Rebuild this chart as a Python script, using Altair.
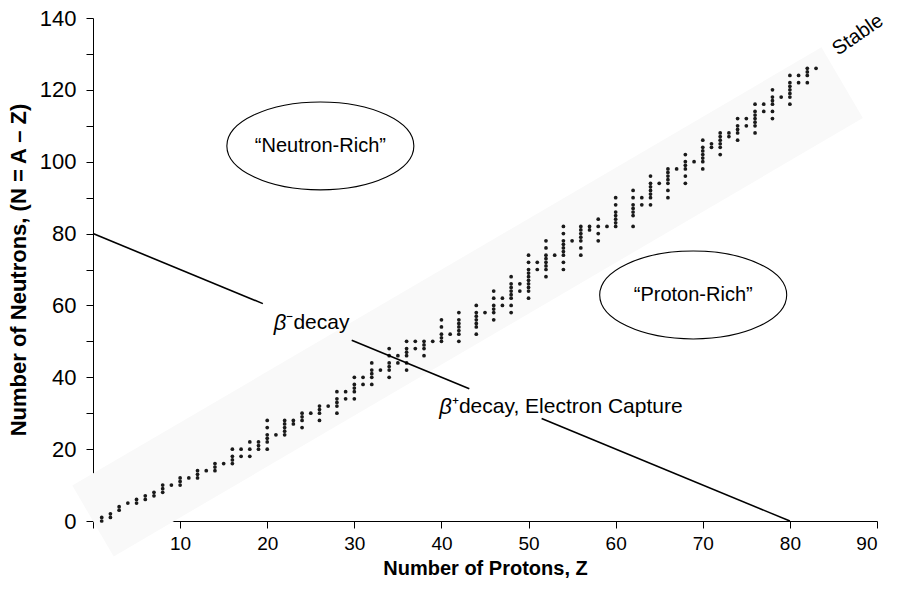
import altair as alt
import pandas as pd

# Stable nuclides: proton number Z and the neutron numbers N of its stable isotopes
Z_values = list(range(1, 84))
N_lists = [
    [0, 1], [1, 2], [3, 4], [5], [5, 6], [6, 7], [7, 8], [8, 9, 10], [10], [10, 11, 12],
    [12], [12, 13, 14], [14], [14, 15, 16], [16], [16, 17, 18, 20], [18, 20], [18, 20, 22],
    [20, 21, 22], [20, 22, 23, 24, 26, 28], [24], [24, 25, 26, 27, 28], [27, 28], [26, 28, 29, 30],
    [30], [28, 30, 31, 32], [32], [30, 32, 33, 34, 36], [34, 36], [34, 36, 37, 38, 40],
    [38, 40], [38, 40, 41, 42, 44], [42], [40, 42, 43, 44, 46, 48], [44, 46], [42, 44, 46, 47, 48, 50],
    [48, 50], [46, 48, 49, 50], [50], [50, 51, 52, 54, 56], [52], [50, 52, 53, 54, 55, 56, 58],
    [], [52, 54, 55, 56, 57, 58, 60], [58], [56, 58, 59, 60, 62, 64], [60, 62],
    [58, 60, 62, 63, 64, 65, 66, 68], [64, 66], [62, 64, 65, 66, 67, 68, 69, 70, 72, 74],
    [70, 72], [68, 70, 71, 72, 73, 74, 76, 78], [74], [70, 72, 74, 75, 76, 77, 78, 80, 82],
    [78], [74, 76, 78, 79, 80, 81, 82], [81, 82], [78, 80, 82, 84], [82],
    [82, 83, 84, 85, 86, 88, 90], [], [82, 85, 86, 87, 88, 90, 92], [88, 90],
    [88, 90, 91, 92, 93, 94, 96], [94], [90, 92, 94, 95, 96, 97, 98], [98],
    [94, 96, 98, 99, 100, 102], [100], [98, 100, 101, 102, 103, 104, 106], [104, 105],
    [102, 104, 105, 106, 107, 108], [107, 108], [106, 108, 109, 110, 112], [110, 112],
    [108, 110, 111, 112, 113, 114, 116], [114, 116], [112, 114, 116, 117, 118, 120], [118],
    [116, 118, 119, 120, 121, 122, 124], [122, 124], [122, 124, 125, 126], [126],
]

# Faint band of stability
band_z = [0, 86]
band_n = [0, 122]

# Decay line  (broken where the labels sit)
seg_z1 = [0, 29.7, 51.5]
seg_n1 = [80, 50.3, 28.5]
seg_z2 = [19.5, 43.2, 80]
seg_n2 = [60.5, 36.8, 0]

# Ellipse labels
ell_text = ["\u201cNeutron-Rich\u201d", "\u201cProton-Rich\u201d"]
ell_z = [26.1, 68.9]
ell_n = [104.4, 62.9]

# Beta labels (Greek letter part and remainder)
beta_z = [22.2, 41.2]
beta_n = [55.1, 31.7]
beta_sym = ["\u03b2", "\u03b2"]
beta_rest = ["\u207bdecay", "\u207adecay, Electron Capture"]

stable_z = [87.8]
stable_n = [135.3]
stable_text = ["Stable"]

x_ticks = list(range(0, 91, 10))
y_ticks = list(range(0, 141, 10))

rows = []
for z, ns in zip(Z_values, N_lists):
    for n in ns:
        rows.append({"z": z, "n": n})
pts = pd.DataFrame(rows)

FONT = "Liberation Sans"
xs = alt.Scale(domain=[0, 90], nice=False, zero=False)
ys = alt.Scale(domain=[0, 140], nice=False, zero=False)
xaxis = alt.Axis(values=x_ticks, labelExpr="datum.value === 0 ? '' : datum.label",
                 title="Number of Protons, Z", titlePadding=5, labelPadding=6,
                 labelFontSize=19, titleFontSize=20)
yaxis = alt.Axis(values=y_ticks, labelExpr="datum.value % 20 === 0 ? datum.label : ''",
                 title="Number of Neutrons, (N = A \u2013 Z)", titlePadding=9, labelPadding=10,
                 labelFontSize=22, titleFontSize=22)


def X(f):
    return alt.X(f, type="quantitative", scale=xs, axis=xaxis)


def Y(f):
    return alt.Y(f, type="quantitative", scale=ys, axis=yaxis)


band_df = pd.DataFrame({"z": [band_z[0]], "n": [band_n[0]], "z2": [band_z[1]], "n2": [band_n[1]]})
band = alt.Chart(band_df).mark_rule(color="#f9f9f9", strokeWidth=82, strokeCap="butt").encode(
    x=X("z"), y=Y("n"), x2="z2", y2="n2")

dots = alt.Chart(pts).mark_circle(size=14, color="#1a1a1a", opacity=1).encode(
    x=X("z"), y=Y("n"))

seg_df = pd.DataFrame({"z": seg_z1, "n": seg_n1, "z2": seg_z2, "n2": seg_n2})
segs = alt.Chart(seg_df).mark_rule(color="black", strokeWidth=1.6).encode(
    x=X("z"), y=Y("n"), x2="z2", y2="n2")

ELLIPSE = ("M -1 0 C -1 -0.26 -0.552 -0.47 0 -0.47 C 0.552 -0.47 1 -0.26 1 0 "
           "C 1 0.26 0.552 0.47 0 0.47 C -0.552 0.47 -1 0.26 -1 0 Z")
ell_df = pd.DataFrame({"z": ell_z, "n": ell_n, "t": ell_text})
ells = alt.Chart(ell_df).mark_point(shape=ELLIPSE, size=187 * 187, filled=False,
                                    stroke="black", strokeWidth=1.1, opacity=1).encode(
    x=X("z"), y=Y("n"))
ell_labels = alt.Chart(ell_df).mark_text(font=FONT, fontSize=20, color="black").encode(
    x=X("z"), y=Y("n"), text="t")

beta_df = pd.DataFrame({"z": beta_z, "n": beta_n, "s": beta_sym, "r": beta_rest})
beta_s = alt.Chart(beta_df).mark_text(font=FONT, fontSize=22, fontStyle="italic", align="right",
                                      color="black").encode(x=X("z"), y=Y("n"), text="s")
beta_r = alt.Chart(beta_df).mark_text(font=FONT, fontSize=21, align="left", color="black").encode(
    x=X("z"), y=Y("n"), text="r")

st_df = pd.DataFrame({"z": stable_z, "n": stable_n, "t": stable_text})
stable = alt.Chart(st_df).mark_text(font=FONT, fontSize=20, angle=325, color="black").encode(
    x=X("z"), y=Y("n"), text="t")

chart = alt.layer(band, dots, segs, ells, ell_labels, beta_s, beta_r, stable).properties(
    width=784, height=503,
    padding={"left": 93, "top": 18, "right": 21, "bottom": 68},
    autosize=alt.AutoSizeParams(type="none"),
).configure_view(stroke=None).configure_axis(
    grid=False, domainColor="black", tickColor="black", domainWidth=1, tickWidth=1,
    tickSize=7, labelColor="black", titleColor="black",
    labelFont=FONT, titleFont=FONT, titleFontWeight="bold",
)

chart.save("out.html", embed_options={"renderer": "svg", "actions": False})
